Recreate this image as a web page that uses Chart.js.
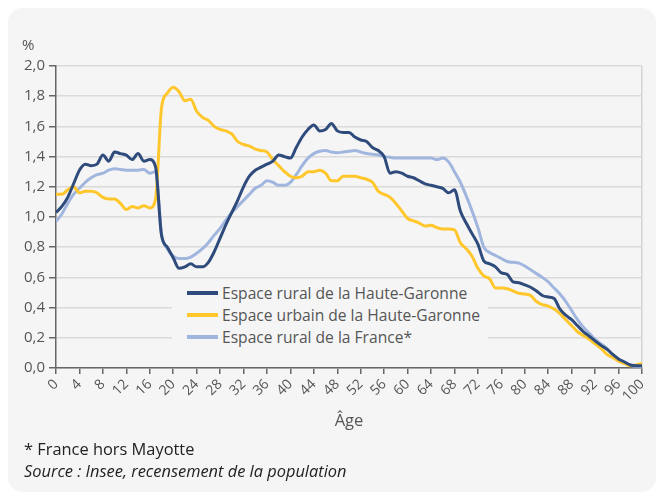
<!DOCTYPE html>
<html lang="fr">
<head>
<meta charset="UTF-8">
<title>Pyramide des âges</title>
<script src="https://cdn.jsdelivr.net/npm/chart.js"></script>
<style>
  body { margin: 0; background: #fff; font-family: "Open Sans", sans-serif; }
  .panel { position: absolute; left: 8px; top: 8px; width: 648px; height: 484px; background: #f5f5f5; border-radius: 14px; }
  #wrap { position: absolute; left: 0; top: 0; width: 662px; height: 495px; }
  .unit { position: absolute; left: 22px; top: 34px; font-size: 15px; color: #555; }
  .legend { position: absolute; left: 172px; top: 282px; width: 316px; height: 66px; background: #f5f5f5; }
  .legend div { display: flex; align-items: center; height: 22px; font-size: 15.6px; color: #555; white-space: nowrap; }
  .legend .sw { display: inline-block; flex: 0 0 31px; width: 31px; height: 4px; margin-left: 15px; margin-right: 4px; }
  .notes { position: absolute; left: 24px; top: 438px; font-size: 16.4px; color: #222; line-height: 22px; }
</style>
</head>
<body>
  <div class="panel"></div>
  <div id="wrap"><canvas id="chart" width="662" height="495"></canvas></div>
  <div class="unit">%</div>
  <div class="legend" id="legend"></div>
  <div class="notes">* France hors Mayotte<br><i>Source : Insee, recensement de la population</i></div>

<script>
// âges 0 à 100
const ages = Array.from({ length: 101 }, (_, i) => i);

const seriesNames = [
  'Espace rural de la Haute-Garonne',
  'Espace urbain de la Haute-Garonne',
  'Espace rural de la France*'
];
const seriesColors = ['#2f4b7c', '#ffc72c', '#a0b6de'];

const ruralHG = [
  1.03,1.07,1.13,1.22,1.31,1.35,1.34,1.35,1.41,1.37,
  1.43,1.42,1.41,1.38,1.42,1.37,1.38,1.33,0.88,0.80,
  0.73,0.66,0.67,0.69,0.67,0.67,0.70,0.77,0.86,0.95,
  1.03,1.11,1.20,1.27,1.31,1.33,1.35,1.37,1.41,1.40,
  1.39,1.46,1.53,1.58,1.61,1.57,1.58,1.62,1.57,1.56,
  1.56,1.53,1.51,1.50,1.46,1.44,1.40,1.29,1.30,1.29,
  1.27,1.26,1.24,1.22,1.21,1.20,1.19,1.16,1.18,1.04,
  0.96,0.89,0.82,0.71,0.69,0.67,0.63,0.62,0.57,0.565,
  0.55,0.535,0.51,0.48,0.47,0.46,0.39,0.35,0.32,0.28,
  0.24,0.21,0.18,0.15,0.125,0.09,0.06,0.04,0.02,0.015,
  0.015
];

const urbainHG = [
  1.15,1.15,1.18,1.20,1.16,1.17,1.17,1.16,1.13,1.12,
  1.12,1.09,1.05,1.07,1.06,1.075,1.06,1.12,1.72,1.82,
  1.86,1.83,1.77,1.78,1.70,1.66,1.64,1.60,1.58,1.57,
  1.55,1.50,1.48,1.47,1.45,1.44,1.43,1.38,1.34,1.30,
  1.27,1.26,1.27,1.30,1.30,1.31,1.29,1.24,1.24,1.27,
  1.27,1.27,1.26,1.25,1.23,1.17,1.15,1.13,1.09,1.04,
  0.99,0.975,0.96,0.94,0.945,0.93,0.92,0.92,0.915,0.83,
  0.79,0.74,0.66,0.61,0.59,0.53,0.53,0.525,0.51,0.495,
  0.49,0.48,0.44,0.42,0.41,0.39,0.36,0.32,0.28,0.24,
  0.215,0.19,0.16,0.13,0.09,0.07,0.045,0.03,0.015,0.02,
  0.03
];

const ruralFrance = [
  0.97,1.02,1.09,1.15,1.19,1.23,1.26,1.28,1.29,1.31,
  1.32,1.315,1.31,1.31,1.31,1.315,1.29,1.30,0.89,0.79,
  0.74,0.725,0.725,0.735,0.76,0.79,0.83,0.88,0.925,0.98,
  1.03,1.07,1.11,1.15,1.19,1.21,1.24,1.23,1.21,1.21,
  1.23,1.28,1.34,1.39,1.42,1.435,1.44,1.43,1.425,1.43,
  1.435,1.44,1.43,1.42,1.415,1.41,1.40,1.395,1.39,1.39,
  1.39,1.39,1.39,1.39,1.39,1.38,1.39,1.365,1.30,1.23,
  1.14,1.04,0.93,0.80,0.765,0.745,0.725,0.705,0.70,0.695,
  0.675,0.65,0.625,0.60,0.57,0.53,0.49,0.44,0.38,0.32,
  0.27,0.23,0.19,0.16,0.13,0.09,0.06,0.04,0.02,0.01,
  0.01
];

const allSeries = [ruralHG, urbainHG, ruralFrance];

// légende en HTML
const legend = document.getElementById('legend');
seriesNames.forEach((name, i) => {
  legend.innerHTML += `<div><span class="sw" style="background:${seriesColors[i]}"></span>${name}</div>`;
});

const datasets = allSeries.map((vals, i) => ({
  label: seriesNames[i],
  data: ages.map((a, k) => ({ x: a, y: vals[k] })),
  borderColor: seriesColors[i],
  borderWidth: 3,
  pointRadius: 0,
  cubicInterpolationMode: 'monotone',
  borderJoinStyle: 'round',
  fill: false
}));

new Chart(document.getElementById('chart'), {
  type: 'line',
  data: { datasets },
  options: {
    responsive: false,
    animation: false,
    layout: { padding: { top: 66, right: 20, bottom: 60, left: 0 } },
    plugins: { legend: { display: false }, tooltip: { enabled: false } },
    scales: {
      x: {
        type: 'linear', min: 0, max: 100,
        afterFit: s => { s.height = 67; },
        ticks: {
          stepSize: 4, autoSkip: false, maxRotation: 45, minRotation: 45,
          color: '#555', font: { family: 'Open Sans', size: 14 }, padding: 2
        },
        grid: {
          color: c => (c.tick && c.tick.value === 100) ? '#d4d4d4' : 'rgba(0,0,0,0)',
          tickColor: '#666', tickLength: 6, lineWidth: 1.5
        },
        border: { color: '#666', width: 1.5 },
        title: { display: true, text: 'Âge', color: '#555', font: { family: 'Open Sans', size: 16.5 } }
      },
      y: {
        min: 0, max: 2,
        afterFit: s => { s.width = 56; },
        ticks: {
          stepSize: 0.2, color: '#555', font: { family: 'Open Sans', size: 15 }, padding: 4,
          callback: v => v.toFixed(1).replace('.', ',')
        },
        grid: { color: '#dadada', lineWidth: 1.5, tickColor: '#666', tickLength: 7 },
        border: { color: '#666', width: 1.5 }
      }
    }
  }
});
</script>
</body>
</html>
